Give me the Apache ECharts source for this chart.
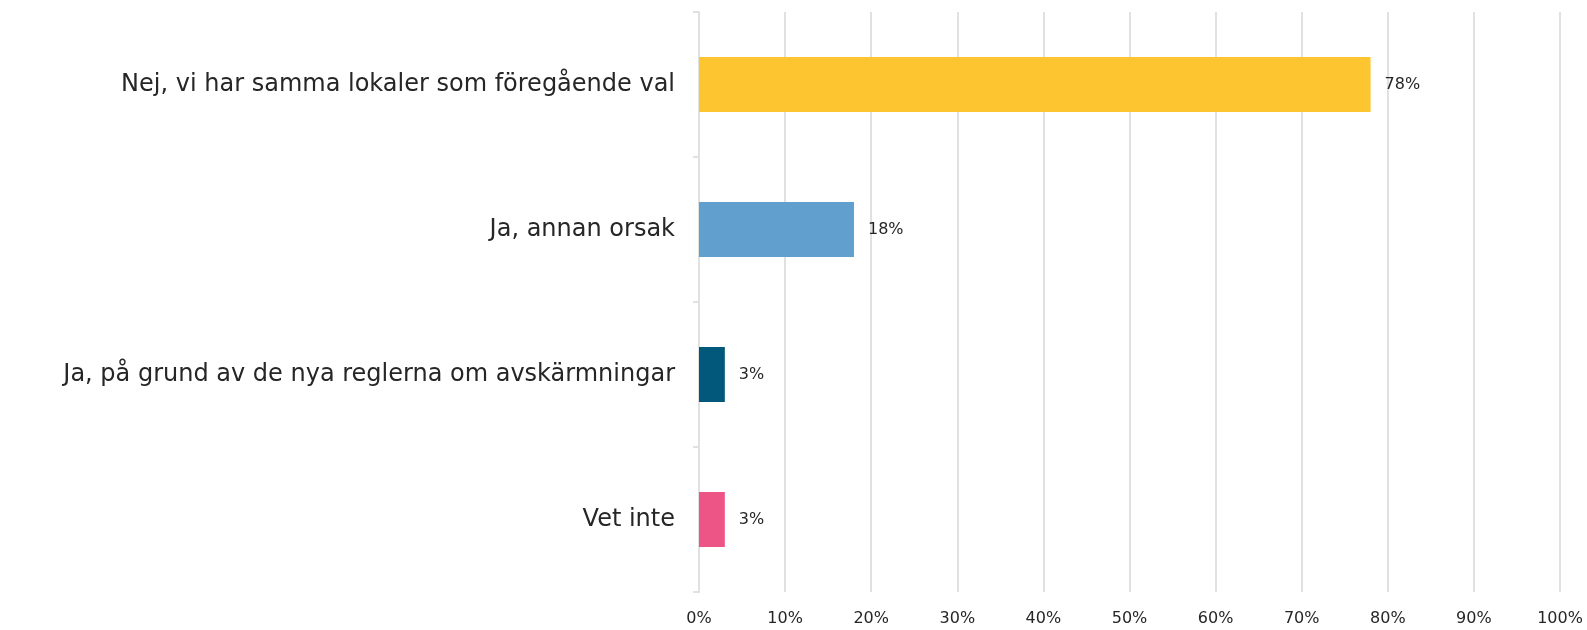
<!DOCTYPE html>
<html>
<head>
<meta charset="utf-8">
<script src="https://cdn.jsdelivr.net/npm/echarts@6/dist/echarts.min.js"></script>
<style>
  html, body { margin: 0; padding: 0; background: #fff; }
  #chart { width: 1587px; height: 630px; }
</style>
</head>
<body>
<div id="chart"></div>
<script>
// svarsalternativ och andelar (%)
var categories = [
	'Nej, vi har samma lokaler som föregående val',
	'Ja, annan orsak',
	'Ja, på grund av de nya reglerna om avskärmningar',
	'Vet inte'
];
var values = [78, 18, 3, 3];
var barColors = ['#FDC52F', '#619FCF', '#02587A', '#EC5586'];
var xTicks = [0, 10, 20, 30, 40, 50, 60, 70, 80, 90, 100];

var font = '"DejaVu Sans", sans-serif';
var chart = echarts.init(document.getElementById('chart'));

var option = {
	animation: false,
	grid: { left: 699, right: 27, top: 12, bottom: 38 },
	xAxis: {
		type: 'value',
		min: xTicks[0],
		max: xTicks[xTicks.length - 1],
		interval: 10,
		axisLine: { show: false },
		axisTick: { show: false },
		splitLine: { lineStyle: { color: '#e1e1e1', width: 2 } },
		axisLabel: {
			formatter: '{value}%',
			color: '#262626',
			fontSize: 16,
			fontFamily: font,
			margin: 19
		}
	},
	yAxis: {
		type: 'category',
		inverse: true,
		data: categories,
		axisLine: { show: true, lineStyle: { color: '#e1e1e1', width: 2 } },
		axisTick: { show: true, length: 6, lineStyle: { color: '#e1e1e1', width: 2 } },
		axisLabel: {
			color: '#262626',
			fontSize: 24,
			fontFamily: font,
			margin: 24
		}
	},
	series: [{
		type: 'bar',
		barWidth: '38%',
		data: values.map(function (v, i) {
			return { value: v, itemStyle: { color: barColors[i] } };
		}),
		label: {
			show: true,
			position: 'right',
			distance: 14,
			formatter: '{c}%',
			color: '#262626',
			fontSize: 16,
			fontFamily: font
		}
	}]
};
chart.setOption(option);
</script>
</body>
</html>
